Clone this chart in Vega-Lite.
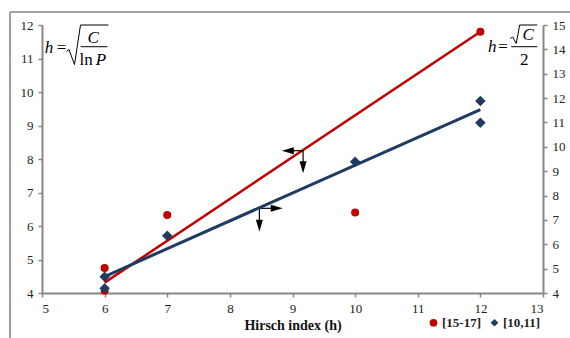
{
  "$schema": "https://vega.github.io/schema/vega-lite/v6.json",
  "width": 501,
  "height": 268,
  "autosize": {"type": "none"},
  "padding": {"left": 42, "top": 25, "right": 27, "bottom": 45},
  "background": "white",
  "config": {
    "view": {"stroke": null},
    "font": "Liberation Serif",
    "axis": {
      "domainColor": "#878787", "domainWidth": 2,
      "tickColor": "#878787", "tickWidth": 1.5, "tickSize": 4,
      "labelFont": "Liberation Serif", "labelFontSize": 13, "labelColor": "#222222",
      "labelPadding": 5, "grid": false,
      "titleFont": "Liberation Serif"
    },
    "legend": {
      "orient": "none", "legendX": 385, "legendY": 291, "direction": "horizontal",
      "labelFont": "Liberation Serif", "labelFontWeight": "bold", "labelFontSize": 13, "labelColor": "#222222",
      "symbolSize": 60, "labelOffset": 2, "columnPadding": 7, "padding": 0
    }
  },
  "datasets": {
    "red": [
      {"h": 6, "v": 4.75, "series": "[15-17]"},
      {"h": 6, "v": 4.07, "series": "[15-17]"},
      {"h": 7, "v": 6.33, "series": "[15-17]"},
      {"h": 10, "v": 6.40, "series": "[15-17]"},
      {"h": 12, "v": 11.80, "series": "[15-17]"}
    ],
    "redLine": [{"h": 6, "v": 4.31}, {"h": 12, "v": 11.80}],
    "blue": [
      {"h": 6, "v": 4.67, "series": "[10,11]"},
      {"h": 6, "v": 4.19, "series": "[10,11]"},
      {"h": 7, "v": 6.35, "series": "[10,11]"},
      {"h": 10, "v": 9.39, "series": "[10,11]"},
      {"h": 12, "v": 11.88, "series": "[10,11]"},
      {"h": 12, "v": 10.99, "series": "[10,11]"}
    ],
    "blueLine": [{"h": 6, "v": 4.677}, {"h": 12, "v": 11.53}],
    "frame": [
      {"h": 4.489, "v": 12.388, "h2": 4.489, "v2": 2.4},
      {"h": 4.489, "v": 12.388, "h2": 13.6, "v2": 12.388}
    ],
    "stems": [
      {"h": 9.169, "v": 8.248, "h2": 8.925, "v2": 8.248},
      {"h": 9.169, "v": 8.248, "h2": 9.169, "v2": 7.752},
      {"h": 8.471, "v": 6.528, "h2": 8.749, "v2": 6.528},
      {"h": 8.471, "v": 6.528, "h2": 8.471, "v2": 6.009}
    ],
    "headLeft": [{"h": 8.925, "v": 8.248}],
    "headRight": [{"h": 8.749, "v": 6.528}],
    "headDown": [{"h": 9.169, "v": 7.752}, {"h": 8.471, "v": 6.009}],
    "italicText": [
      {"h": 5.112, "v": 11.155, "t": "h"},
      {"h": 5.819, "v": 11.454, "t": "C"},
      {"h": 5.942, "v": 10.806, "t": "P"},
      {"h": 12.188, "v": 11.203, "t": "h"},
      {"h": 12.764, "v": 11.552, "t": "C"}
    ],
    "uprightText": [
      {"h": 5.311, "v": 11.155, "t": "="},
      {"h": 5.703, "v": 10.806, "t": "ln"},
      {"h": 12.364, "v": 11.203, "t": "="},
      {"h": 12.700, "v": 10.806, "t": "2"}
    ],
    "radicals": [
      {"g": "L", "i": 0, "h": 5.391, "v": 11.209},
      {"g": "L", "i": 1, "h": 5.431, "v": 11.269},
      {"g": "L", "i": 2, "h": 5.519, "v": 10.821},
      {"g": "L", "i": 3, "h": 5.615, "v": 12.0},
      {"g": "L", "i": 4, "h": 6.062, "v": 12.0},
      {"g": "R", "i": 0, "h": 12.476, "v": 11.597},
      {"g": "R", "i": 1, "h": 12.516, "v": 11.642},
      {"g": "R", "i": 2, "h": 12.572, "v": 11.448},
      {"g": "R", "i": 3, "h": 12.628, "v": 12.0},
      {"g": "R", "i": 4, "h": 12.907, "v": 12.0}
    ],
    "bars": [
      {"h": 5.618, "v": 11.352, "h2": 6.043},
      {"h": 12.492, "v": 11.352, "h2": 12.907}
    ]
  },
  "layer": [
    {
      "encoding": {
        "x": {"field": "h", "type": "quantitative", "scale": {"domain": [5, 13], "nice": false, "zero": false},
              "axis": {"title": "Hirsch index (h)", "values": [5, 6, 7, 8, 9, 10, 11, 12, 13], "titleFontSize": 14, "titleFontWeight": "bold", "titleColor": "#111111", "titlePadding": 3}},
        "y": {"field": "v", "type": "quantitative", "scale": {"domain": [4, 12], "nice": false, "zero": false},
              "axis": {"title": null, "values": [4, 5, 6, 7, 8, 9, 10, 11, 12]}}
      },
      "layer": [
        {
          "data": {"name": "frame"},
          "mark": {"type": "rule", "color": "#A0A0A0", "strokeWidth": 2},
          "encoding": {"x2": {"field": "h2"}, "y2": {"field": "v2"}}
        },
        {
          "data": {"name": "redLine"},
          "mark": {"type": "line", "color": "#C00000", "strokeWidth": 2.5},
          "encoding": {}
        },
        {
          "data": {"name": "red"},
          "mark": {"type": "point", "filled": true, "opacity": 1, "size": 64},
          "encoding": {
            "color": {"field": "series", "type": "nominal", "scale": {"domain": ["[15-17]", "[10,11]"], "range": ["#C00000", "#1F3B63"]}, "legend": {"title": null}},
            "shape": {"field": "series", "type": "nominal", "scale": {"domain": ["[15-17]", "[10,11]"], "range": ["circle", "diamond"]}, "legend": {"title": null}}
          }
        },
        {
          "data": {"name": "stems"},
          "mark": {"type": "rule", "color": "black", "strokeWidth": 1.2},
          "encoding": {"x2": {"field": "h2"}, "y2": {"field": "v2"}}
        },
        {
          "data": {"name": "headLeft"},
          "mark": {"type": "point", "filled": true, "opacity": 1, "color": "black", "size": 144, "shape": "M-1,0L1,-0.58L1,0.58Z"},
          "encoding": {}
        },
        {
          "data": {"name": "headRight"},
          "mark": {"type": "point", "filled": true, "opacity": 1, "color": "black", "size": 144, "shape": "M1,0L-1,-0.58L-1,0.58Z"},
          "encoding": {}
        },
        {
          "data": {"name": "headDown"},
          "mark": {"type": "point", "filled": true, "opacity": 1, "color": "black", "size": 144, "shape": "M0,1L-0.58,-1L0.58,-1Z"},
          "encoding": {}
        },
        {
          "data": {"name": "italicText"},
          "mark": {"type": "text", "font": "Liberation Serif", "fontSize": 17, "fontStyle": "italic", "align": "center", "baseline": "alphabetic", "color": "black"},
          "encoding": {"text": {"field": "t"}}
        },
        {
          "data": {"name": "uprightText"},
          "mark": {"type": "text", "font": "Liberation Serif", "fontSize": 17, "align": "center", "baseline": "alphabetic", "color": "black"},
          "encoding": {"text": {"field": "t"}}
        },
        {
          "data": {"name": "radicals"},
          "mark": {"type": "line", "color": "black", "strokeWidth": 1},
          "encoding": {"detail": {"field": "g"}, "order": {"field": "i"}}
        },
        {
          "data": {"name": "bars"},
          "mark": {"type": "rule", "color": "black", "strokeWidth": 1},
          "encoding": {"x2": {"field": "h2"}}
        }
      ]
    },
    {
      "encoding": {
        "x": {"field": "h", "type": "quantitative", "scale": {"domain": [5, 13], "nice": false, "zero": false},
              "axis": {"title": "Hirsch index (h)", "values": [5, 6, 7, 8, 9, 10, 11, 12, 13], "titleFontSize": 14, "titleFontWeight": "bold", "titleColor": "#111111", "titlePadding": 3}},
        "y": {"field": "v", "type": "quantitative", "scale": {"domain": [4, 15], "nice": false, "zero": false},
              "axis": {"title": null, "orient": "right", "values": [4, 5, 6, 7, 8, 9, 10, 11, 12, 13, 14, 15]}}
      },
      "layer": [
        {
          "data": {"name": "blueLine"},
          "mark": {"type": "line", "color": "#1F3B63", "strokeWidth": 3},
          "encoding": {}
        },
        {
          "data": {"name": "blue"},
          "mark": {"type": "point", "filled": true, "opacity": 1, "size": 110},
          "encoding": {
            "color": {"field": "series", "type": "nominal", "scale": {"domain": ["[15-17]", "[10,11]"], "range": ["#C00000", "#1F3B63"]}, "legend": {"title": null}},
            "shape": {"field": "series", "type": "nominal", "scale": {"domain": ["[15-17]", "[10,11]"], "range": ["circle", "diamond"]}, "legend": {"title": null}}
          }
        }
      ]
    }
  ],
  "resolve": {"scale": {"y": "independent"}}
}
